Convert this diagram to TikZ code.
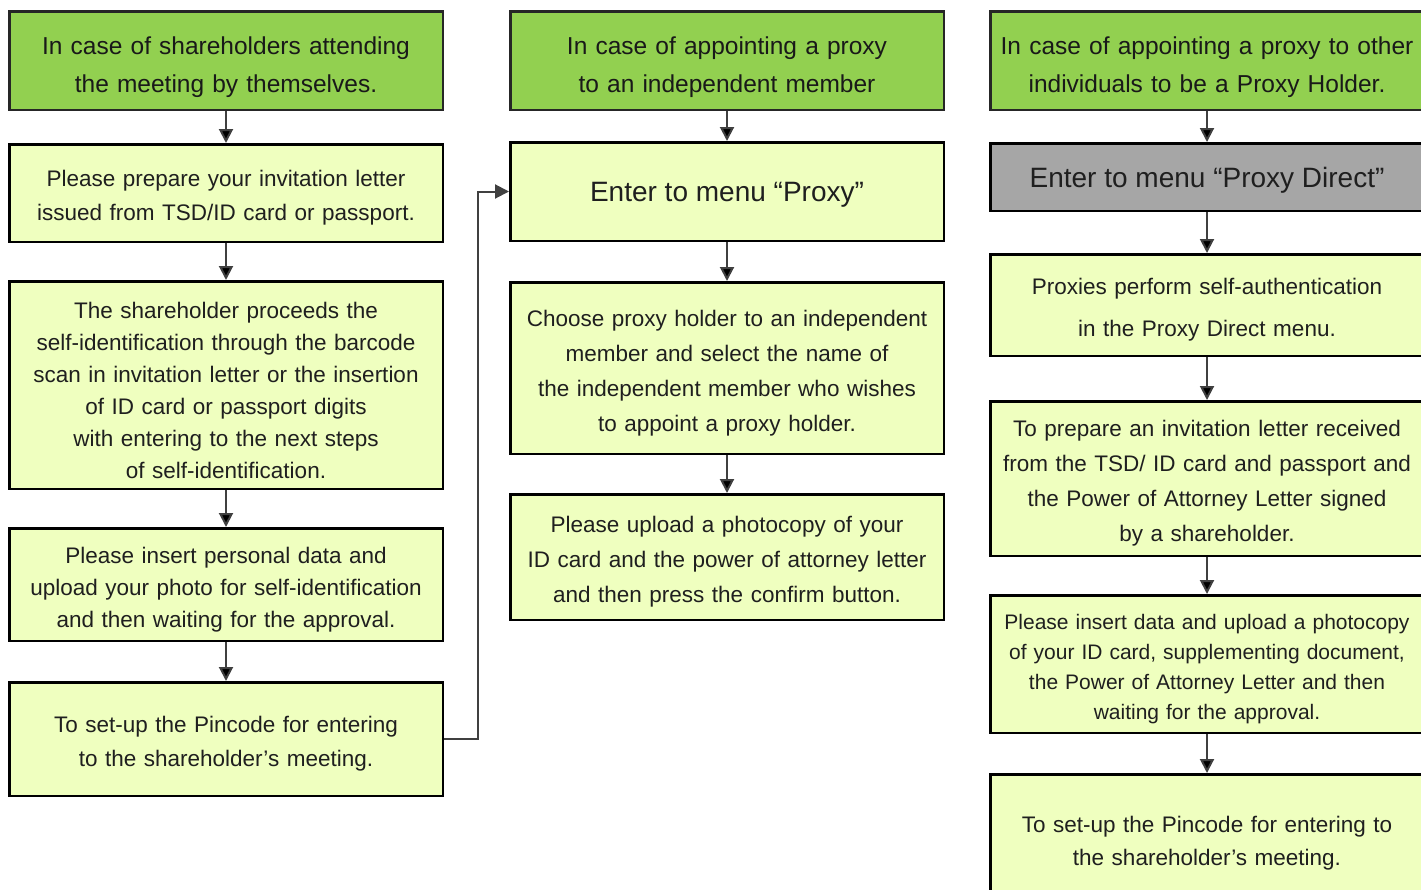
\documentclass[tikz,border=0pt]{standalone}
\usepackage{fontspec}
\setmainfont{Liberation Sans}
\usetikzlibrary{positioning,arrows.meta}
\definecolor{headgreen}{HTML}{92D050}
\definecolor{stepyellow}{HTML}{EFFFBF}
\definecolor{menugrey}{HTML}{A6A6A6}
\definecolor{flowgrey}{HTML}{404040}

\begin{document}
\begin{tikzpicture}[x=1pt,y=-1pt]
% STYLES
\tikzset{%
    head/.style={%
        rectangle, draw=black!85, line width=2.5pt, fill=headgreen,
        minimum width=433.5pt, text width=430pt, align=center, inner sep=0pt,
        font=\fontsize{24.5}{38}\selectfont, text=black!90,
        execute at begin node={\rule{0pt}{1.25em}}
    },
    stepbox/.style={%
        rectangle, draw=black, line width=2.5pt, fill=stepyellow,
        minimum width=433.5pt, text width=430pt, align=center, inner sep=0pt,
        font=\fontsize{22.5}{34}\selectfont, text=black!88,
        execute at begin node={\rule{0pt}{1.18em}}
    },
    menubox/.style={%
        rectangle, draw=black, line width=2.5pt, fill=stepyellow,
        minimum width=433.5pt, inner sep=0pt, text depth=0pt,
        font=\fontsize{28}{34}\selectfont, text=black!88
    },
    flow/.style={-{Triangle[length=14pt,width=14pt]}, line width=2pt, draw=flowgrey}
}
\useasboundingbox (0,0) rectangle (1421,889);
\clip (0,0) rectangle (1421,889);
% Draw the three headers
\node [head, minimum height=98.5pt] at (226,60.5) (selfhead)
    {In case of shareholders attending\\the meeting by themselves.};
\node [head, minimum height=98.5pt, right=65pt of selfhead] (indhead)
    {In case of appointing a proxy\\to an independent member};
\node [head, minimum height=98.5pt, right=44pt of indhead] (otherhead)
    {In case of appointing a proxy to other\\individuals to be a Proxy Holder.};
% Draw the steps: attending by themselves
\node [stepbox, minimum height=97.5pt, below=32pt of selfhead] (selfletter)
    {Please prepare your invitation letter\\issued from TSD/ID card or passport.};
\node [stepbox, minimum height=207.5pt, below=37pt of selfletter,
       font=\fontsize{22.5}{32}\selectfont] (selfscan)
    {The shareholder proceeds the\\self-identification through the barcode\\scan in invitation letter or the insertion\\of ID card or passport digits\\with entering to the next steps\\of self-identification.};
\node [stepbox, minimum height=112.5pt, below=37pt of selfscan,
       font=\fontsize{22.5}{32}\selectfont] (selfdata)
    {Please insert personal data and\\upload your photo for self-identification\\and then waiting for the approval.};
\node [stepbox, minimum height=113.5pt, below=39pt of selfdata] (selfpin)
    {To set-up the Pincode for entering\\to the shareholder’s meeting.};
% Draw the steps: independent member
\node [menubox, minimum height=98.5pt, below=30pt of indhead] (indmenu)
    {Enter to menu “Proxy”};
\node [stepbox, minimum height=171.5pt, below=39pt of indmenu,
       font=\fontsize{22.5}{35}\selectfont] (indchoose)
    {Choose proxy holder to an independent\\member and select the name of\\the independent member who wishes\\to appoint a proxy holder.};
\node [stepbox, minimum height=125.5pt, below=38pt of indchoose,
       font=\fontsize{22.5}{35}\selectfont] (indupload)
    {Please upload a photocopy of your\\ID card and the power of attorney letter\\and then press the confirm button.};
% Draw the steps: other individuals
\node [menubox, fill=menugrey, minimum height=67.5pt, below=31pt of otherhead] (othermenu)
    {Enter to menu “Proxy Direct”};
\node [stepbox, minimum height=101.5pt, below=41pt of othermenu,
       font=\fontsize{22.5}{42}\selectfont] (otherauth)
    {Proxies perform self-authentication\\in the Proxy Direct menu.};
\node [stepbox, minimum height=154.5pt, below=43pt of otherauth,
       font=\fontsize{22.5}{35}\selectfont] (otherprep)
    {To prepare an invitation letter received\\from the TSD/ ID card and passport and\\the Power of Attorney Letter signed\\by a shareholder.};
\node [stepbox, minimum height=137.5pt, below=37pt of otherprep,
       font=\fontsize{21}{30}\selectfont] (otherdata)
    {Please insert data and upload a photocopy\\of your ID card, supplementing document,\\the Power of Attorney Letter and then\\waiting for the approval.};
\node [stepbox, minimum height=127.5pt, below=39pt of otherdata,
       font=\fontsize{22.5}{33}\selectfont] (otherpin)
    {To set-up the Pincode for entering to\\the shareholder’s meeting.};
% Draw the links between steps
\path[flow]
    (selfhead) edge (selfletter)
    (selfletter) edge (selfscan)
    (selfscan) edge (selfdata)
    (selfdata) edge (selfpin)
    (indhead) edge (indmenu)
    (indmenu) edge (indchoose)
    (indchoose) edge (indupload)
    (otherhead) edge (othermenu)
    (othermenu) edge (otherauth)
    (otherauth) edge (otherprep)
    (otherprep) edge (otherdata)
    (otherdata) edge (otherpin);
\draw[flow] (selfpin.east) -- ++(34,0) |- (indmenu.west);
\end{tikzpicture}
\end{document}
